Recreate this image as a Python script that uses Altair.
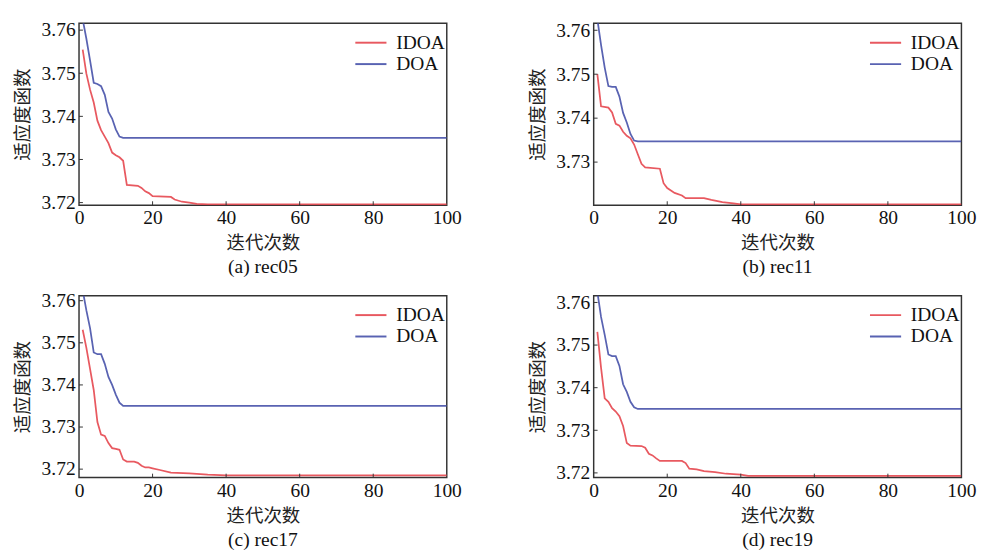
import altair as alt
import pandas as pd

RED = "#e6474f"
BLUE = "#4752aa"
X_TICKS = [0, 20, 40, 60, 80, 100]
X_INNER_TICKS = [20, 40, 60, 80]
W, H = 378, 187
SERIF = "Liberation Serif"
CJK = "Noto Sans CJK SC"

# (a) rec05
A_IDOA_X = [1, 2, 3, 4, 5, 6, 7, 8, 9, 10, 11, 12, 13, 16, 17, 18, 19, 20, 25, 26, 28, 30, 32, 35, 100]
A_IDOA_Y = [3.7555, 3.7499, 3.7462, 3.7432, 3.7390, 3.7368, 3.7353, 3.7338, 3.7316, 3.7310, 3.7305, 3.7297,
            3.7241, 3.7239, 3.7234, 3.7226, 3.7222, 3.7215, 3.7213, 3.7207, 3.7202, 3.7200, 3.7197, 3.7196, 3.7196]
A_DOA_X = [1, 2, 3, 4, 5, 6, 7, 8, 9, 10, 11, 12, 100]
A_DOA_Y = [3.7625, 3.7580, 3.7530, 3.7478, 3.7475, 3.7470, 3.7450, 3.7410, 3.7395, 3.7370, 3.7353, 3.7350, 3.7350]

# (b) rec11
B_IDOA_X = [1, 2, 4, 5, 6, 7, 8, 9, 10, 11, 12, 13, 14, 18, 19, 20, 22, 24, 25, 30, 32, 35, 38, 40, 100]
B_IDOA_Y = [3.7500, 3.7427, 3.7424, 3.7413, 3.7387, 3.7383, 3.7369, 3.7360, 3.7354, 3.7340, 3.7318, 3.7296,
            3.7288, 3.7285, 3.7252, 3.7241, 3.7230, 3.7224, 3.7218, 3.7218, 3.7214, 3.7209, 3.7206, 3.7204, 3.7204]
B_DOA_X = [1, 2, 3, 4, 5, 6, 7, 8, 9, 10, 11, 12, 100]
B_DOA_Y = [3.7625, 3.7567, 3.7515, 3.7473, 3.7471, 3.7471, 3.7449, 3.7412, 3.7390, 3.7364, 3.7349, 3.7347, 3.7347]

# (c) rec17
C_IDOA_X = [1, 2, 3, 4, 5, 6, 7, 8, 9, 10, 11, 12, 13, 15, 16, 17, 18, 19, 20, 22, 25, 30, 35, 40, 100]
C_IDOA_Y = [3.7531, 3.7488, 3.7438, 3.7388, 3.7312, 3.7282, 3.7279, 3.7262, 3.7250, 3.7248, 3.7246, 3.7223,
            3.7218, 3.7218, 3.7215, 3.7208, 3.7204, 3.7204, 3.7202, 3.7198, 3.7192, 3.7190, 3.7187, 3.7185, 3.7185]
C_DOA_X = [1, 2, 3, 4, 5, 6, 7, 8, 9, 10, 11, 12, 100]
C_DOA_Y = [3.7625, 3.7577, 3.7535, 3.7477, 3.7473, 3.7473, 3.7450, 3.7419, 3.7400, 3.7377, 3.7358, 3.7350, 3.7350]

# (d) rec19
D_IDOA_X = [1, 2, 3, 4, 5, 6, 7, 8, 9, 10, 13, 14, 15, 16, 17, 18, 24, 25, 26, 28, 30, 33, 36, 40, 42, 100]
D_IDOA_Y = [3.7531, 3.7447, 3.7375, 3.7367, 3.7352, 3.7344, 3.7333, 3.7310, 3.7270, 3.7264, 3.7263, 3.7259,
            3.7245, 3.7241, 3.7234, 3.7228, 3.7228, 3.7223, 3.7210, 3.7208, 3.7204, 3.7202, 3.7198, 3.7196, 3.7193, 3.7193]
D_DOA_X = [1, 2, 3, 4, 5, 6, 7, 8, 9, 10, 11, 12, 100]
D_DOA_Y = [3.7625, 3.7566, 3.7524, 3.7478, 3.7474, 3.7474, 3.7451, 3.7408, 3.7390, 3.7367, 3.7354, 3.7350, 3.7350]

PANELS = [
    ("(a) rec05", A_IDOA_X, A_IDOA_Y, A_DOA_X, A_DOA_Y, [3.7194, 3.7616], [3.72, 3.73, 3.74, 3.75, 3.76]),
    ("(b) rec11", B_IDOA_X, B_IDOA_Y, B_DOA_X, B_DOA_Y, [3.7202, 3.7616], [3.73, 3.74, 3.75, 3.76]),
    ("(c) rec17", C_IDOA_X, C_IDOA_Y, C_DOA_X, C_DOA_Y, [3.7180, 3.7612], [3.72, 3.73, 3.74, 3.75, 3.76]),
    ("(d) rec19", D_IDOA_X, D_IDOA_Y, D_DOA_X, D_DOA_Y, [3.7189, 3.7616], [3.72, 3.73, 3.74, 3.75, 3.76]),
]

SERIES = ["IDOA", "DOA"]


def make_panel(caption, ix, iy, dx, dy, ydom, yticks):
    rows = [{"series": "IDOA", "iter": x, "value": y} for x, y in zip(ix, iy)]
    rows += [{"series": "DOA", "iter": x, "value": y} for x, y in zip(dx, dy)]
    df = pd.DataFrame(rows)

    xscale = alt.Scale(domain=[0, 100], nice=False, zero=False)
    yscale = alt.Scale(domain=ydom, nice=False, zero=False)
    xaxis = alt.Axis(values=X_TICKS, title="迭代次数", format="d", labelFlush=False,
                     labelFont=SERIF, labelFontSize=20, labelColor="#111", labelPadding=3,
                     titleFont=CJK, titleFontSize=19, titleFontWeight="normal", titleColor="#222",
                     titlePadding=7, domain=False, ticks=False, grid=False)
    yaxis = alt.Axis(values=yticks, format=".2f", title="适应度函数", labelFlush=False,
                     labelFont=SERIF, labelFontSize=20, labelColor="#111", labelPadding=4,
                     titleFont=CJK, titleFontSize=19, titleFontWeight="normal", titleColor="#222",
                     titlePadding=9, domain=False, ticks=False, grid=False)

    lines = alt.Chart(df).mark_line(clip=True, strokeWidth=1.8, opacity=0.9).encode(
        x=alt.X("iter:Q", scale=xscale, axis=xaxis),
        y=alt.Y("value:Q", scale=yscale, axis=yaxis),
        color=alt.Color("series:N", sort=SERIES,
                        scale=alt.Scale(domain=SERIES, range=[RED, BLUE]),
                        legend=alt.Legend(orient="none", legendX=290, legendY=10, title=None, padding=0,
                                          symbolType="M-2,0H2", symbolSize=256,
                                          symbolStrokeWidth=2, labelFont=SERIF,
                                          labelFontSize=20, labelColor="#111",
                                          rowPadding=2, labelOffset=16)),
    )

    xt = alt.Chart(pd.DataFrame({"t": X_INNER_TICKS})).mark_rule(color="#333", strokeWidth=1).encode(
        x=alt.X("t:Q", scale=xscale, axis=xaxis),
        y=alt.value(H), y2=alt.value(H - 4),
    )
    yt = alt.Chart(pd.DataFrame({"t": yticks})).mark_rule(color="#333", strokeWidth=1).encode(
        y=alt.Y("t:Q", scale=yscale, axis=yaxis),
        x=alt.value(0), x2=alt.value(4),
    )

    return alt.layer(lines, xt, yt).properties(
        width=W, height=H,
        title=alt.TitleParams(caption, orient="bottom", anchor="middle", font=SERIF,
                              fontSize=20, fontWeight="normal", color="#111", offset=5),
    )


charts = [make_panel(*p) for p in PANELS]

chart = alt.vconcat(
    alt.hconcat(charts[0], charts[1], spacing=67).resolve_scale(color="independent"),
    alt.hconcat(charts[2], charts[3], spacing=67).resolve_scale(color="independent"),
    spacing=12,
).resolve_scale(color="independent").properties(
    padding={"left": 5, "top": 4, "right": 0, "bottom": 0}
).configure_view(
    stroke="#333", strokeWidth=1.5
)

chart.save("out.html", embed_options={"renderer": "svg", "actions": False})
